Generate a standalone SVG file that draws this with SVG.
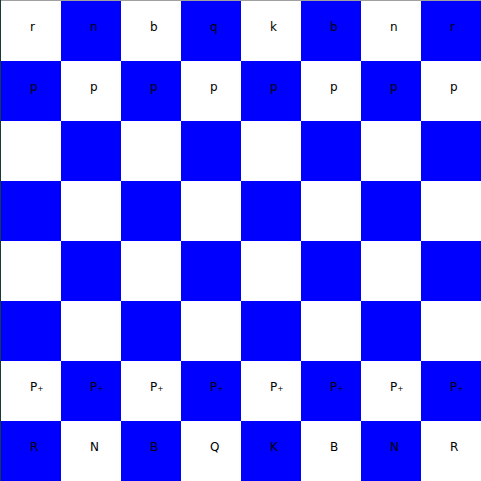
<svg xmlns="http://www.w3.org/2000/svg" width="481" height="481" viewBox="0 0 481 481">
<style>
.w{fill:#ffffff}
.b{fill:#0000ff}
text{font-family:"DejaVu Sans","Liberation Sans",sans-serif;font-size:12px;fill:#000000}
</style>
<rect x="0" y="0" width="481" height="481" fill="#ffffff"/>
<rect x="0" y="0" width="481" height="1" fill="#a0a0a0"/>
<rect x="0" y="0" width="1" height="481" fill="#1a3a3a"/>
<g id="board">
<rect class="w" x="1" y="1" width="60" height="60"/><rect class="b" x="61" y="1" width="60" height="60"/><rect class="w" x="121" y="1" width="60" height="60"/><rect class="b" x="181" y="1" width="60" height="60"/><rect class="w" x="241" y="1" width="60" height="60"/><rect class="b" x="301" y="1" width="60" height="60"/><rect class="w" x="361" y="1" width="60" height="60"/><rect class="b" x="421" y="1" width="60" height="60"/>
<rect class="b" x="1" y="61" width="60" height="60"/><rect class="w" x="61" y="61" width="60" height="60"/><rect class="b" x="121" y="61" width="60" height="60"/><rect class="w" x="181" y="61" width="60" height="60"/><rect class="b" x="241" y="61" width="60" height="60"/><rect class="w" x="301" y="61" width="60" height="60"/><rect class="b" x="361" y="61" width="60" height="60"/><rect class="w" x="421" y="61" width="60" height="60"/>
<rect class="w" x="1" y="121" width="60" height="60"/><rect class="b" x="61" y="121" width="60" height="60"/><rect class="w" x="121" y="121" width="60" height="60"/><rect class="b" x="181" y="121" width="60" height="60"/><rect class="w" x="241" y="121" width="60" height="60"/><rect class="b" x="301" y="121" width="60" height="60"/><rect class="w" x="361" y="121" width="60" height="60"/><rect class="b" x="421" y="121" width="60" height="60"/>
<rect class="b" x="1" y="181" width="60" height="60"/><rect class="w" x="61" y="181" width="60" height="60"/><rect class="b" x="121" y="181" width="60" height="60"/><rect class="w" x="181" y="181" width="60" height="60"/><rect class="b" x="241" y="181" width="60" height="60"/><rect class="w" x="301" y="181" width="60" height="60"/><rect class="b" x="361" y="181" width="60" height="60"/><rect class="w" x="421" y="181" width="60" height="60"/>
<rect class="w" x="1" y="241" width="60" height="60"/><rect class="b" x="61" y="241" width="60" height="60"/><rect class="w" x="121" y="241" width="60" height="60"/><rect class="b" x="181" y="241" width="60" height="60"/><rect class="w" x="241" y="241" width="60" height="60"/><rect class="b" x="301" y="241" width="60" height="60"/><rect class="w" x="361" y="241" width="60" height="60"/><rect class="b" x="421" y="241" width="60" height="60"/>
<rect class="b" x="1" y="301" width="60" height="60"/><rect class="w" x="61" y="301" width="60" height="60"/><rect class="b" x="121" y="301" width="60" height="60"/><rect class="w" x="181" y="301" width="60" height="60"/><rect class="b" x="241" y="301" width="60" height="60"/><rect class="w" x="301" y="301" width="60" height="60"/><rect class="b" x="361" y="301" width="60" height="60"/><rect class="w" x="421" y="301" width="60" height="60"/>
<rect class="w" x="1" y="361" width="60" height="60"/><rect class="b" x="61" y="361" width="60" height="60"/><rect class="w" x="121" y="361" width="60" height="60"/><rect class="b" x="181" y="361" width="60" height="60"/><rect class="w" x="241" y="361" width="60" height="60"/><rect class="b" x="301" y="361" width="60" height="60"/><rect class="w" x="361" y="361" width="60" height="60"/><rect class="b" x="421" y="361" width="60" height="60"/>
<rect class="b" x="1" y="421" width="60" height="60"/><rect class="w" x="61" y="421" width="60" height="60"/><rect class="b" x="121" y="421" width="60" height="60"/><rect class="w" x="181" y="421" width="60" height="60"/><rect class="b" x="241" y="421" width="60" height="60"/><rect class="w" x="301" y="421" width="60" height="60"/><rect class="b" x="361" y="421" width="60" height="60"/><rect class="w" x="421" y="421" width="60" height="60"/>
</g>
<g id="pieces">
<text x="30" y="31">r</text><text x="90" y="31">n</text><text x="150" y="31">b</text><text x="210" y="31">q</text><text x="270" y="31">k</text><text x="330" y="31">b</text><text x="390" y="31">n</text><text x="450" y="31">r</text>
<text x="30" y="91">p</text><text x="90" y="91">p</text><text x="150" y="91">p</text><text x="210" y="91">p</text><text x="270" y="91">p</text><text x="330" y="91">p</text><text x="390" y="91">p</text><text x="450" y="91">p</text>
<text x="30" y="391">P₊</text><text x="90" y="391">P₊</text><text x="150" y="391">P₊</text><text x="210" y="391">P₊</text><text x="270" y="391">P₊</text><text x="330" y="391">P₊</text><text x="390" y="391">P₊</text><text x="450" y="391">P₊</text>
<text x="30" y="451">R</text><text x="90" y="451">N</text><text x="150" y="451">B</text><text x="210" y="451">Q</text><text x="270" y="451">K</text><text x="330" y="451">B</text><text x="390" y="451">N</text><text x="450" y="451">R</text>
</g>
</svg>
